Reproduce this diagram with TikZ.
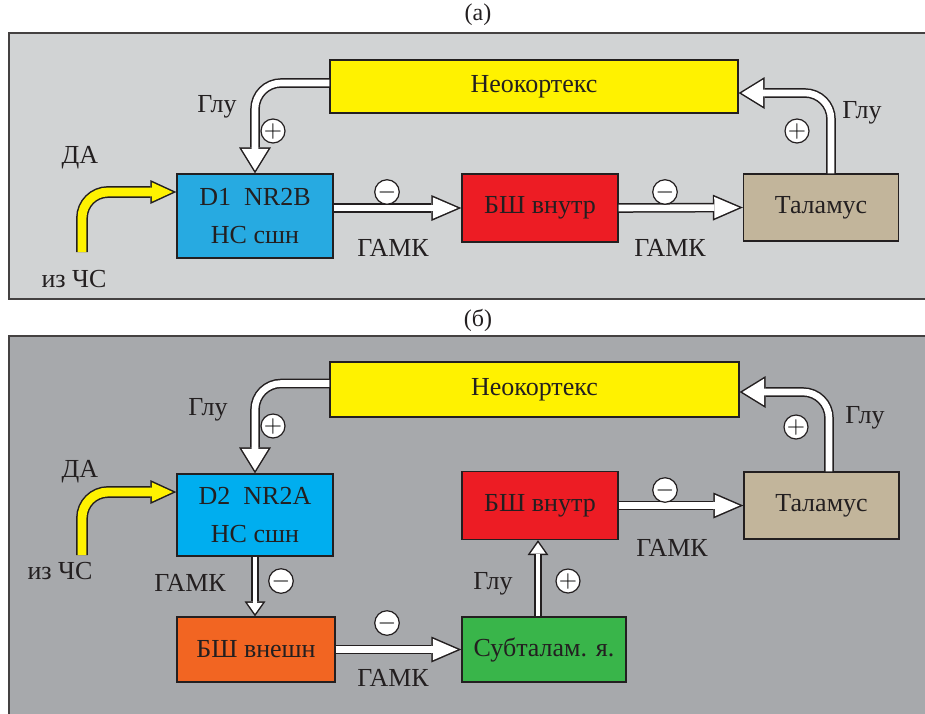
\documentclass[tikz,border=0pt]{standalone}
\usepackage{fontspec}
\setmainfont{Liberation Serif}
\newfontfamily\boxfont{Liberation Serif}
\usetikzlibrary{arrows.meta, positioning}

\definecolor{panela}{HTML}{D1D3D4}
\definecolor{panelb}{HTML}{A7A9AC}
\definecolor{neocol}{HTML}{FFF200}
\definecolor{stra}{HTML}{27AAE1}
\definecolor{strb}{HTML}{00AEEF}
\definecolor{gpicol}{HTML}{ED1C24}
\definecolor{gpecol}{HTML}{F26522}
\definecolor{thalcol}{HTML}{C2B59B}
\definecolor{stncol}{HTML}{39B54A}
\definecolor{edgecol}{HTML}{231F20}

\begin{document}
\begin{tikzpicture}[
  x=0.5pt, y=-0.5pt,
  panel/.style={draw=edgecol!85, line width=0.9pt},
  mybox/.style={
     draw=edgecol,
     line width=0.65pt,
     inner sep=0pt,
     align=center,
     text=edgecol,
     font=\boxfont\fontsize{13}{19}\selectfont},
  mylabel/.style={text=edgecol, font=\boxfont\fontsize{13}{15}\selectfont},
  mytitle/.style={text=edgecol, font=\boxfont\fontsize{12}{14}\selectfont},
  sign/.style={
     circle,
     draw=edgecol,
     fill=white,
     line width=0.6pt,
     minimum size=12pt,
     inner sep=0pt,
     font=\fontsize{12}{12}\selectfont},
  bendarrow/.style={draw=white, line width=3.3pt, rounded corners=13pt,
     shorten >=1.43pt,
     -{Triangle[length=10.8pt, width=13.3pt, line width=0pt, fill=white]},
     preaction={draw=edgecol, line width=4.8pt, shorten >=0pt,
       -{Triangle[length=13pt, width=16pt, line width=0pt, fill=edgecol]}}},
  straightarrow/.style={draw=white, line width=3.3pt,
     shorten >=1.89pt,
     -{Triangle[length=12.4pt, width=10.7pt, line width=0pt, fill=white]},
     preaction={draw=edgecol, line width=4.8pt, shorten >=0pt,
       -{Triangle[length=15pt, width=13pt, line width=0pt, fill=edgecol]}}},
  thinarrow/.style={draw=white, line width=2.4pt,
     shorten >=1.31pt,
     -{Triangle[length=5.4pt, width=7.6pt, line width=0pt, fill=white]},
     preaction={draw=edgecol, line width=3.9pt, shorten >=0pt,
       -{Triangle[length=7.5pt, width=10.5pt, line width=0pt, fill=edgecol]}}},
  daarrow/.style={draw=neocol, line width=4.4pt, rounded corners=13pt,
     shorten >=1.79pt,
     -{Triangle[length=10.5pt, width=9.65pt, line width=0pt, fill=neocol]},
     preaction={draw=edgecol, line width=5.9pt, shorten >=0pt,
       -{Triangle[length=13pt, width=12pt, line width=0pt, fill=edgecol]}}}
  ]
  \clip (0,0) rectangle (925,713);
  \fill[white] (0,0) rectangle (925,713);

  % panel (a)
  \node[mytitle] (titlea) at (478,15) {(а)};
  \draw[panel, fill=panela] (9,33) rectangle (940,299);

  \node[mybox, fill=neocol, minimum width=204pt, minimum height=26.5pt] (neoa) at (534,86.5) {Неокортекс};
  \node[mybox, fill=stra, minimum width=78pt, minimum height=42pt] (d1) at (255,216) {D1\ \ NR2B\\НС сшн};
  \node[mybox, fill=gpicol, minimum width=78pt, minimum height=34pt] (gpia) at (540,208) {БШ внутр};
  \node[mybox, fill=thalcol, minimum width=77.5pt, minimum height=33.5pt] (thala) at (821,207.5) {Таламус};
  \coordinate (csa) at (82,252);

  \draw[bendarrow] ([yshift=1.75pt]neoa.west) -| (d1.north);
  \draw[straightarrow] (d1.east |- gpia.west) -- (gpia.west);
  \draw[straightarrow] (gpia.east) -- (thala.west);
  \draw[bendarrow] ([xshift=5pt]thala.north) |- ([yshift=-3.25pt]neoa.east);
  \draw[daarrow] (csa) |- ([yshift=12pt]d1.west);

  \node[mylabel] (daa) at (80,158) {ДА};
  \node[mylabel] (fromcsa) at (74,279) {из ЧС};
  \node[mylabel] (glua1) at (217,107) {Глу};
  \node[sign] (pa1) at (273,131) {$+$};
  \node[sign] (ma1) at (387,192) {$-$};
  \node[mylabel] (gaba1) at (393,248) {ГАМК};
  \node[sign] (ma2) at (665,192) {$-$};
  \node[mylabel] (gaba2) at (670,248) {ГАМК};
  \node[mylabel] (glua2) at (862,113) {Глу};
  \node[sign] (pa2) at (797,131) {$+$};

  % panel (b)
  \node[mytitle] (titleb) at (478,320) {(б)};
  \draw[panel, fill=panelb] (9,336) rectangle (940,730);

  \node[mybox, fill=neocol, minimum width=204.5pt, minimum height=27.5pt] (neob) at (534.5,389.5) {Неокортекс};
  \node[mybox, fill=strb, minimum width=78pt, minimum height=41pt] (d2) at (255,515) {D2\ \ NR2A\\НС сшн};
  \node[mybox, fill=gpicol, minimum width=78pt, minimum height=34pt] (gpib) at (540,505.5) {БШ внутр};
  \node[mybox, fill=thalcol, minimum width=77.5pt, minimum height=33.5pt] (thalb) at (821.5,505.5) {Таламус};
  \node[mybox, fill=gpecol, minimum width=79pt, minimum height=32.5pt] (gpe) at (256,649.5) {БШ внешн};
  \node[mybox, fill=stncol, minimum width=82pt, minimum height=32.5pt] (stn) at (544,649.5) {Субталам. я.};
  \coordinate (csb) at (82,555);

  \draw[bendarrow] ([yshift=3pt]neob.west) -| (d2.north);
  \draw[straightarrow] (gpib.east) -- (thalb.west);
  \draw[bendarrow] ([xshift=3.75pt]thalb.north) |- ([yshift=-1.25pt]neob.east);
  \draw[thinarrow] (d2.south) -- (d2.south |- gpe.north);
  \draw[straightarrow] (gpe.east) -- (stn.west);
  \draw[thinarrow] ([xshift=-3pt]stn.north) -- ([xshift=-3pt]stn.north |- gpib.south);
  \draw[daarrow] (csb) |- ([yshift=11.5pt]d2.west);

  \node[mylabel] (dab) at (80,472) {ДА};
  \node[mylabel] (fromcsb) at (60,571) {из ЧС};
  \node[mylabel] (glub1) at (208,410) {Глу};
  \node[sign] (pb1) at (273,426) {$+$};
  \node[mylabel] (gabab1) at (190,583) {ГАМК};
  \node[sign] (mb1) at (281,581) {$-$};
  \node[sign] (mb2) at (387,623) {$-$};
  \node[mylabel] (gabab2) at (393,678) {ГАМК};
  \node[mylabel] (glub2) at (493,584) {Глу};
  \node[sign] (pb2) at (568,581) {$+$};
  \node[sign] (mb3) at (665,490) {$-$};
  \node[mylabel] (gabab3) at (672,548) {ГАМК};
  \node[mylabel] (glub3) at (865,418) {Глу};
  \node[sign] (pb3) at (796,427) {$+$};
\end{tikzpicture}
\end{document}
